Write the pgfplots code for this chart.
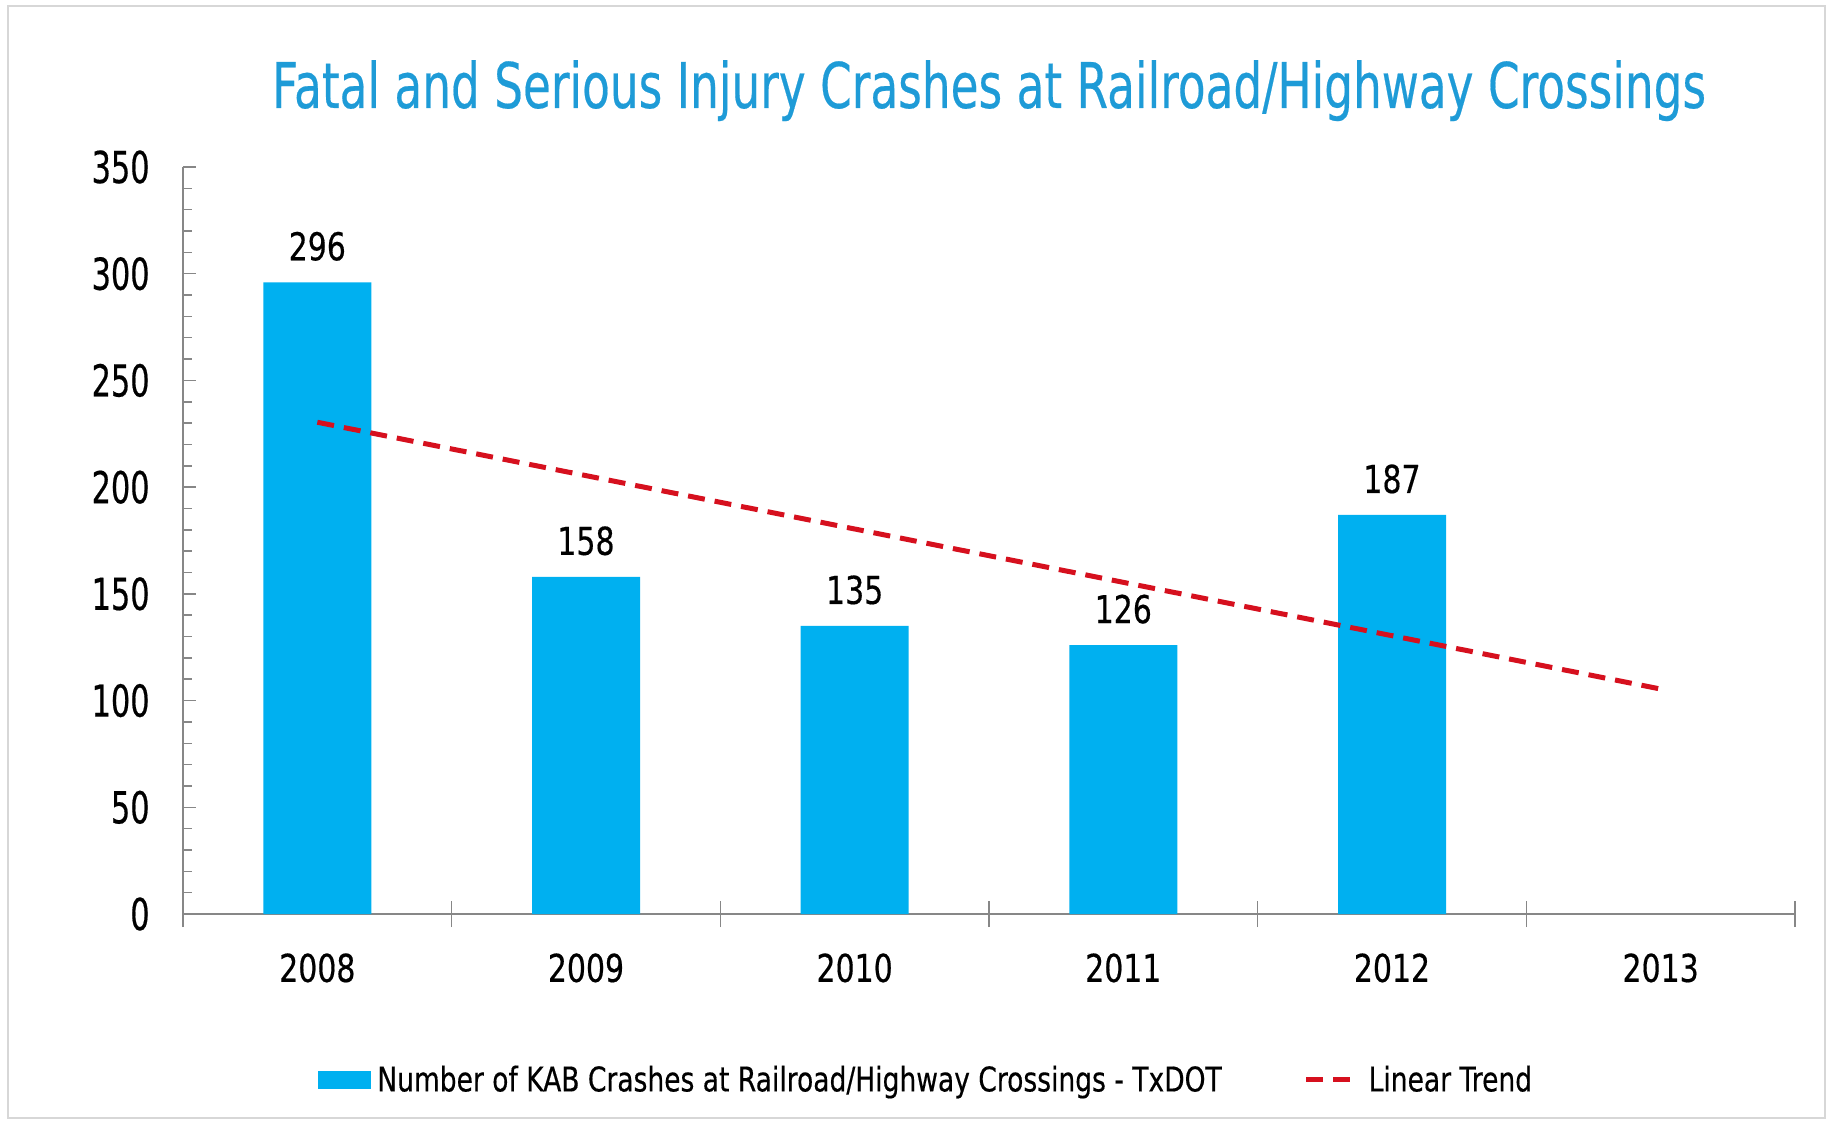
\documentclass[border=0pt]{standalone}
\usepackage{pgfplots}
\pgfplotsset{compat=1.18}
\usepackage{fontspec}
\setmainfont{DejaVu Sans}[FakeStretch=0.78, FakeBold=0.4]
\newfontfamily\titlefont{DejaVu Sans}[FakeStretch=0.72, FakeBold=0.3]
\newfontfamily\yfont{DejaVu Sans}[FakeStretch=0.69, FakeBold=0.4]
\definecolor{barblue}{RGB}{0,176,240}
\definecolor{titleblue}{RGB}{30,155,215}
\definecolor{trendred}{RGB}{214,16,30}
\definecolor{axisgray}{RGB}{135,135,135}
\definecolor{framegray}{RGB}{215,215,215}
\begin{document}
\begin{tikzpicture}
\useasboundingbox (-91.5pt,-103.5pt) rectangle (826pt,457pt);
\fill[white] (-91.5pt,-103.5pt) rectangle (826pt,457pt);
\draw[framegray, line width=1pt] (-87.5pt,-102pt) rectangle (821pt,454pt);
\node[anchor=base, text=titleblue, inner sep=0pt, font=\titlefont\fontsize{31.5}{36}\selectfont] at (403pt,403pt) {Fatal and Serious Injury Crashes at Railroad/Highway Crossings};
\begin{axis}[
  at={(0pt,0pt)}, anchor=south west,
  scale only axis,
  width=806pt, height=373.5pt,
  xmin=-0.5, xmax=5.5, ymin=0, ymax=350,
  enlargelimits=false,
  axis x line*=bottom, axis y line*=left,
  axis line style={axisgray, line width=0.75pt},
  every tick/.style={axisgray, line width=0.75pt},
  /pgf/number format/assume math mode=true,
  xtick={0,1,2,3,4,5},
  xticklabels={2008,2009,2010,2011,2012,2013},
  xtick style={draw=none},
  extra x ticks={-0.5,0.5,1.5,2.5,3.5,4.5,5.5},
  extra x tick labels={},
  extra x tick style={xtick style={draw=axisgray}, tick align=center, major tick length=13pt},
  ytick={0,50,...,350},
  minor y tick num=4,
  tick align=inside,
  major tick length=6.5pt,
  minor tick length=4.5pt,
  tick label style={inner sep=0pt},
  xticklabel style={anchor=north, yshift=-19.5pt, font=\fontsize{19.2}{22}\selectfont},
  yticklabel style={anchor=east, xshift=-16.5pt, font=\yfont\fontsize{22}{26}\selectfont},
  legend columns=2,
  legend style={draw=none, fill=none, inner sep=0pt, at={(0.0837,-0.2222)}, anchor=west,
    font=\fontsize{17}{20}\selectfont,
    nodes={inner xsep=3pt, inner ysep=0pt},
    /tikz/every even column/.append style={column sep=38pt}},
]
\addplot[ybar, bar width=54pt, fill=barblue, draw=none,
  nodes near coords, every node near coord/.append style={text=black, inner sep=0pt, anchor=south, yshift=10.5pt, font=\fontsize{19.2}{22}\selectfont},
  legend image code/.code={\fill[barblue] (0pt,-4.5pt) rectangle (26.5pt,4.5pt);}]
  coordinates {(0,296) (1,158) (2,135) (3,126) (4,187)};
\addlegendentry{Number of KAB Crashes at Railroad/Highway Crossings - TxDOT}
\addplot[trendred, line width=2.5pt, dash pattern=on 8.5pt off 5pt, mark=none,
  legend image code/.code={\draw[trendred, line width=2.5pt, dash pattern=on 8.5pt off 5pt] (0pt,0pt) -- (22pt,0pt); \path (27pt,0pt);}]
  coordinates {(0,230.4) (5,105.4)};
\addlegendentry{Linear Trend}
\end{axis}
\end{tikzpicture}
\end{document}
